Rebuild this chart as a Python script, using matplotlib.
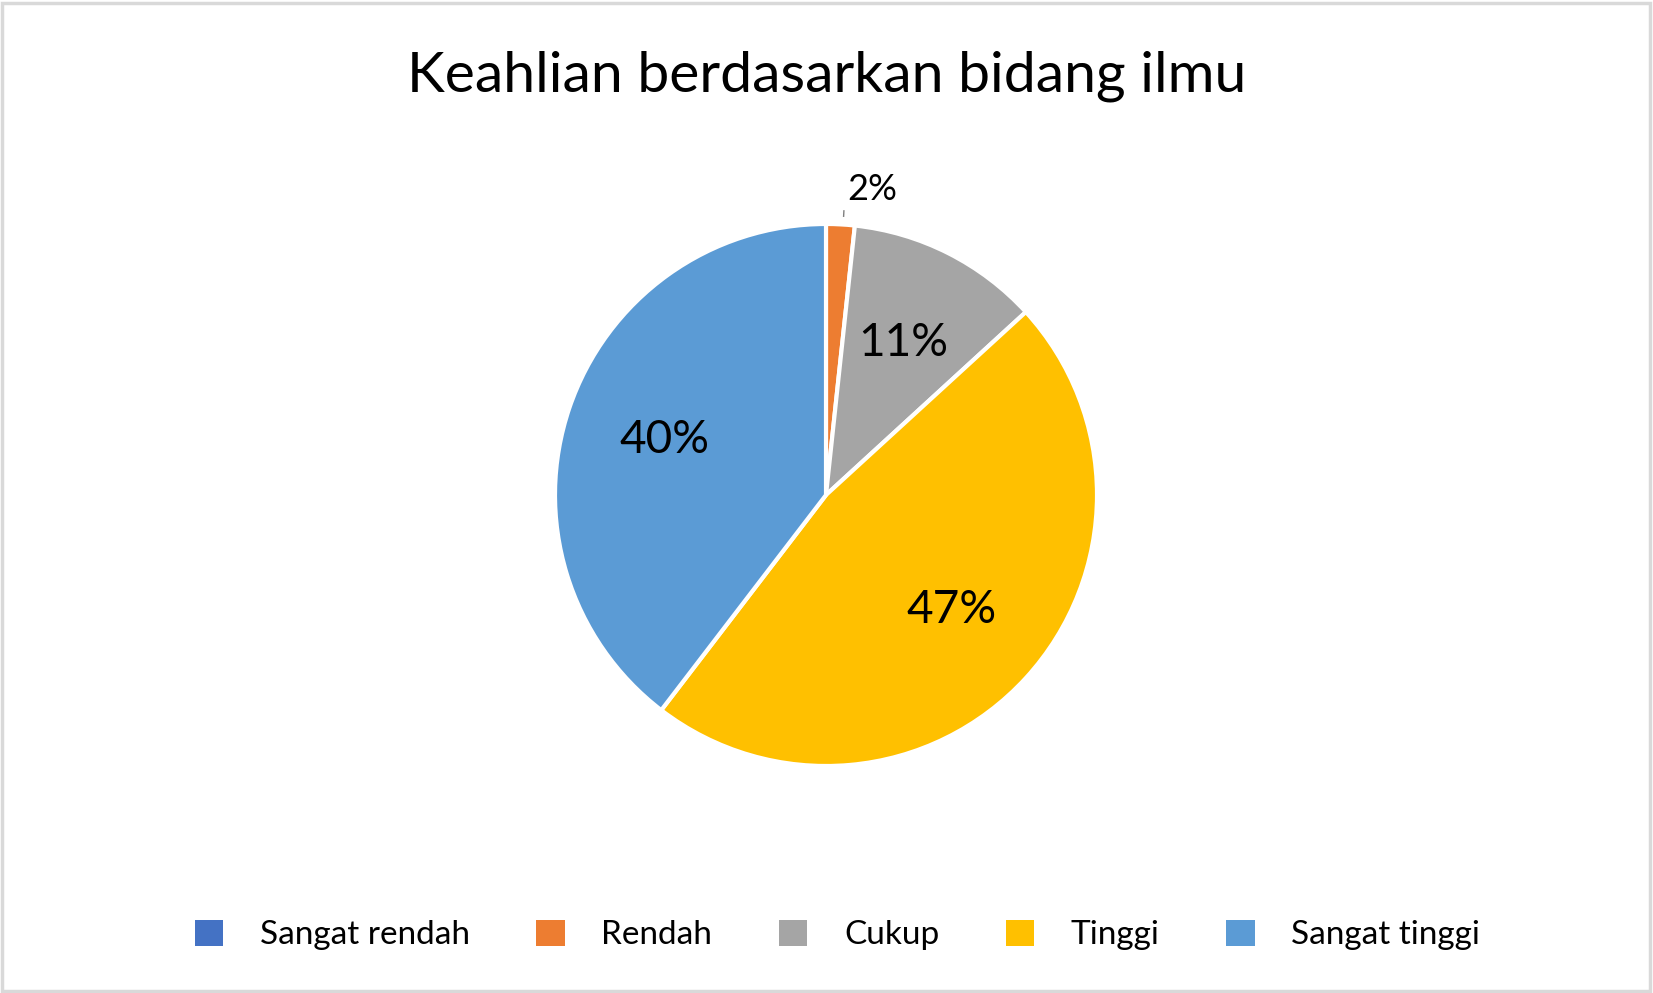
import numpy as np
import matplotlib.pyplot as plt
from matplotlib.patches import Rectangle, Patch

plt.rcParams['font.family'] = ['Lato', 'DejaVu Sans']

# data
categories = ['Sangat rendah', 'Rendah', 'Cukup', 'Tinggi', 'Sangat tinggi']
values = [0.0, 1.7, 11.5, 47.2, 39.6]
labels = ['', '2%', '11%', '47%', '40%']
colors = ['#4472C4', '#ED7D31', '#A5A5A5', '#FFC000', '#5B9BD5']
title = 'Keahlian berdasarkan bidang ilmu'

W, H = 1653, 993
fig = plt.figure(figsize=(W / 100, H / 100), dpi=100)

# chart frame
fig.patches.append(Rectangle((0.001, 0.002), 0.997, 0.995, transform=fig.transFigure,
                             fill=False, edgecolor='#d9d9d9', linewidth=2.5))

cx, cy, r = 826, 495, 271
ax = fig.add_axes([(cx - r) / W, 1 - (cy + r) / H, 2 * r / W, 2 * r / H])
wedges, _ = ax.pie(values, colors=colors, startangle=90, counterclock=False,
                   wedgeprops=dict(edgecolor='white', linewidth=3))
ax.set_xlim(-1, 1)
ax.set_ylim(-1, 1)
ax.set_aspect('equal')
ax.axis('off')

# data labels
total = sum(values)
start = 90.0
for v, lab in zip(values, labels):
    mid = np.deg2rad(start - v / total * 360 / 2)
    start -= v / total * 360
    if not lab:
        continue
    if v / total < 0.05:
        ax.text(1.13 * np.cos(mid) + 0.11, 1.13 * np.sin(mid), lab, ha='center', va='center',
                fontsize=26, color='black', clip_on=False)
        ax.plot([np.cos(mid) * 1.03 + 0.01, np.cos(mid) * 1.05 + 0.01],
                [np.sin(mid) * 1.03, np.sin(mid) * 1.05], color='#7f7f7f', lw=1, clip_on=False)
    else:
        ax.text(0.63 * np.cos(mid), 0.63 * np.sin(mid), lab, ha='center', va='center',
                fontsize=33, color='black')

fig.text(0.5, 1 - 76 / H, title, ha='center', va='center', fontsize=41, color='black')

handles = [Patch(facecolor=c, edgecolor='none') for c in colors]
fig.legend(handles, categories, loc='center', bbox_to_anchor=(0.5 + 11 / W, 1 - 935 / H),
           ncol=5, frameon=False, fontsize=24, handlelength=0.85, handleheight=0.85,
           handletextpad=1.1, columnspacing=2.0)

fig.savefig('out.png', dpi=100, facecolor='white')
